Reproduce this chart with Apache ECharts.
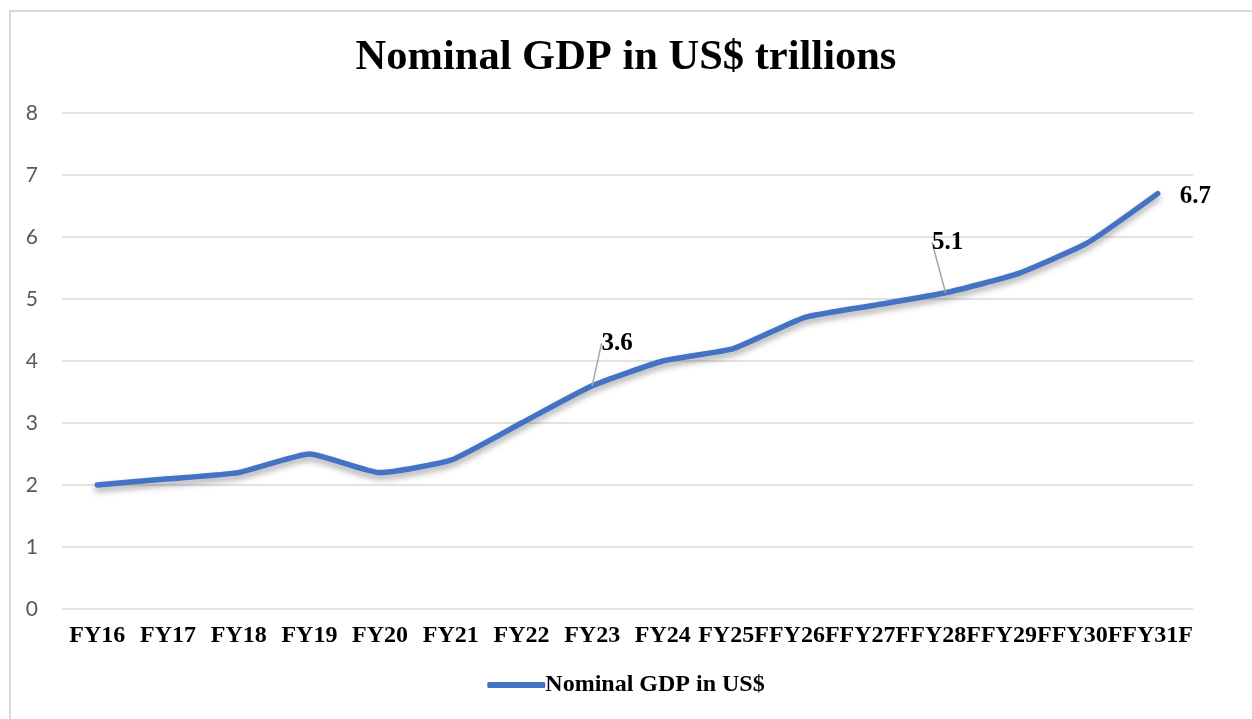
<!DOCTYPE html>
<html>
<head>
<meta charset="utf-8">
<script src="https://cdn.jsdelivr.net/npm/echarts@6/dist/echarts.min.js"></script>
<style>
html,body{margin:0;padding:0;background:#fff;}
#frame{position:absolute;left:9px;top:10px;width:1260px;height:720px;border:2px solid #d9d9d9;box-sizing:border-box;}
#chart{position:absolute;left:0;top:0;width:1252px;height:719px;}
</style>
</head>
<body>
<div id="frame"></div>
<div id="chart"></div>
<script>
var categories = ['FY16','FY17','FY18','FY19','FY20','FY21','FY22','FY23','FY24','FY25F','FY26F','FY27F','FY28F','FY29F','FY30F','FY31F'];
var gdpValues = [2.0, 2.1, 2.2, 2.5, 2.2, 2.4, 3.0, 3.6, 4.0, 4.2, 4.7, 4.9, 5.1, 5.4, 5.9, 6.7];
var labelledIdx = [7, 12, 15];
var seriesName = 'Nominal GDP in US$';
var titleText = 'Nominal GDP in US$ trillions';

var chart = echarts.init(document.getElementById('chart'));
var data = gdpValues.map(function (v, i) {
  if (labelledIdx.indexOf(i) >= 0) {
    return {
      value: v,
      label: {show: true, position: i === 15 ? 'right' : 'top'},
      labelLine: {show: i !== 15, lineStyle: {color: '#a6a6a6', width: 1.5}}
    };
  }
  return v;
});
var offsets = {7: [25, -25], 12: [2, -33], 15: [17, 3]};
chart.setOption({
  animation: false,
  title: {
    text: titleText, left: 'center', top: 32,
    textStyle: {fontFamily: 'Liberation Serif', fontWeight: 'bold', fontSize: 42.5, color: '#000'}
  },
  legend: {
    bottom: 17, left: 'center', itemWidth: 58, itemHeight: 6, itemGap: 0,
    icon: 'roundRect',
    textStyle: {fontFamily: 'Liberation Serif', fontWeight: 'bold', fontSize: 24, color: '#000', padding: [0,0,0,-5]},
    data: [seriesName]
  },
  grid: {left: 62, right: 59, top: 113, bottom: 110},
  xAxis: {
    type: 'category', data: categories, boundaryGap: true,
    axisLine: {show: false}, axisTick: {show: false},
    axisLabel: {interval: 0, margin: 15, fontFamily: 'Liberation Serif', fontWeight: 'bold', fontSize: 24, color: '#000'}
  },
  yAxis: {
    type: 'value', min: 0, max: 8, interval: 1,
    axisLine: {show: false}, axisTick: {show: false},
    splitLine: {lineStyle: {color: '#d9d9d9', width: 1.5}},
    axisLabel: {margin: 24, fontFamily: 'Lato', fontSize: 21, color: '#595959'}
  },
  series: [{
    name: seriesName, type: 'line', data: data, smooth: 0.15,
    symbol: 'circle', symbolSize: 0, showSymbol: true,
    color: '#4472C4',
    lineStyle: {width: 5.5, color: '#4472C4', cap: 'round', shadowColor: 'rgba(0,0,0,0.35)', shadowBlur: 6, shadowOffsetY: 4},
    label: {fontFamily: 'Liberation Serif', fontWeight: 'bold', fontSize: 25, color: '#000'},
    labelLayout: function (p) {
      var o = offsets[p.dataIndex];
      if (!o) return {};
      return {dx: o[0], dy: o[1]};
    }
  }]
});
</script>
</body>
</html>
